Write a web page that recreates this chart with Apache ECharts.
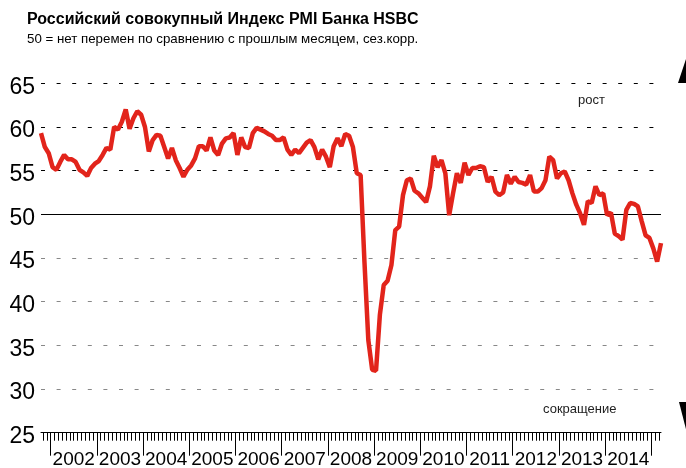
<!DOCTYPE html>
<html>
<head>
<meta charset="utf-8">
<title>PMI HSBC Russia</title>
<script src="https://cdn.jsdelivr.net/npm/echarts@6/dist/echarts.min.js"></script>
<style>
  html, body { margin: 0; padding: 0; background: #fff; }
  #pmiChart { width: 686px; height: 468px; }
</style>
</head>
<body>
<div id="pmiChart"></div>
<script>
// first month of the series (year, month)
var firstYear = 2001;
var firstMonthNo = 10;
// monthly index values, one array per year
var pmi2001 = [59.3, 57.7, 57.0];
var pmi2002 = [55.4, 55.1, 56.0, 56.8, 56.3, 56.3, 56.0, 55.1, 54.8, 54.4, 55.3, 55.8];
var pmi2003 = [56.1, 56.8, 57.6, 57.4, 60.0, 59.7, 60.6, 62.0, 59.8, 61.0, 61.8, 61.4];
var pmi2004 = [60.0, 57.2, 58.5, 59.1, 59.0, 57.7, 56.4, 57.6, 56.2, 55.3, 54.3, 55.1];
var pmi2005 = [55.6, 56.4, 57.8, 57.8, 57.3, 58.8, 57.3, 56.8, 58.1, 58.7, 58.8, 59.3];
var pmi2006 = [56.8, 58.8, 57.7, 57.6, 59.3, 59.9, 59.7, 59.5, 59.2, 59.0, 58.5, 58.5];
var pmi2007 = [58.8, 57.4, 56.8, 57.4, 57.0, 57.6, 58.2, 58.5, 57.7, 56.3, 57.4, 56.6];
var pmi2008 = [55.4, 57.8, 58.7, 57.8, 59.2, 59.0, 57.7, 54.7, 54.5, 44.5, 35.6, 32.2];
var pmi2009 = [32.1, 38.5, 41.9, 42.4, 44.2, 48.2, 48.6, 52.2, 53.9, 54.1, 52.7, 52.4];
var pmi2010 = [51.9, 51.4, 53.2, 56.7, 55.4, 56.2, 54.7, 49.9, 52.4, 54.7, 53.6, 55.9];
var pmi2011 = [54.5, 55.3, 55.3, 55.5, 55.4, 53.7, 54.3, 52.6, 52.2, 52.5, 54.5, 53.5];
var pmi2012 = [54.3, 53.7, 53.6, 53.4, 54.5, 52.6, 52.6, 53.0, 53.9, 56.6, 56.2, 54.1];
var pmi2013 = [54.7, 54.9, 53.9, 52.4, 51.1, 50.1, 48.8, 51.5, 51.3, 53.2, 52.2, 52.4];
var pmi2014 = [49.9, 50.2, 47.8, 47.5, 47.1, 50.5, 51.3, 51.2, 50.9, 49.2, 47.6, 47.3];
var pmi2015 = [46.1, 44.6, 46.7];
// year labels under the axis
var yearLabels = ['2002', '2003', '2004', '2005', '2006', '2007', '2008', '2009', '2010', '2011', '2012', '2013', '2014'];
// value axis
var yMin = 25, yMax = 65, yStep = 5;
var noChangeLevel = 50;

var pmi = [].concat(pmi2001, pmi2002, pmi2003, pmi2004, pmi2005, pmi2006, pmi2007,
  pmi2008, pmi2009, pmi2010, pmi2011, pmi2012, pmi2013, pmi2014, pmi2015);

// x = months counted from start of 2002, point sits in the middle of its month
var startOffset = (firstYear - 2002) * 12 + (firstMonthNo - 1);
var seriesData = pmi.map(function (v, i) {
  return [startOffset + i + 0.5, v];
});
var xMin = seriesData[0][0];
var xMax = seriesData[seriesData.length - 1][0];

// ticks: every month boundary, long ones at new year, labels mid year
var minorTicks = [];
for (var m = Math.ceil(xMin); m <= Math.floor(xMax); m++) minorTicks.push(m);
var majorTicks = [];
var labelPos = [];
yearLabels.forEach(function (y, j) {
  majorTicks.push(j * 12);
  labelPos.push(j * 12 + 6);
});
majorTicks.push(yearLabels.length * 12);

var fontFam = '"Liberation Sans", Arial, sans-serif';

var option = {
  animation: false,
  backgroundColor: '#fff',
  title: {
    text: 'Российский совокупный Индекс PMI Банка HSBC',
    subtext: '50 = нет перемен по сравнению с прошлым месяцем, сез.корр.',
    left: 27,
    top: 12,
    itemGap: 5,
    padding: 0,
    textStyle: { fontFamily: fontFam, fontSize: 16, fontWeight: 'bold', color: '#000' },
    subtextStyle: { fontFamily: fontFam, fontSize: 13.3, color: '#000' }
  },
  // keep the plot box fixed, labels may sit close to the edge
  grid: { left: 41, right: 25, top: 83.3, bottom: 35.3, outerBoundsMode: 'none' },
  xAxis: [
    {
      type: 'value',
      min: xMin,
      max: xMax,
      position: 'bottom',
      axisLine: { show: true, lineStyle: { color: '#000', width: 1 } },
      axisTick: { show: true, customValues: minorTicks, length: 8, lineStyle: { color: '#000', width: 1 } },
      axisLabel: { show: false },
      splitLine: { show: false }
    },
    {
      type: 'value',
      min: xMin,
      max: xMax,
      position: 'bottom',
      axisLine: { show: false },
      axisTick: { show: true, customValues: majorTicks, length: 23, lineStyle: { color: '#000', width: 1 } },
      axisLabel: {
        show: true,
        customValues: labelPos,
        margin: 18,
        fontFamily: fontFam,
        fontSize: 19,
        color: '#000',
        formatter: function (v) {
          return yearLabels[Math.round((v - 6) / 12)];
        }
      },
      splitLine: { show: false }
    }
  ],
  yAxis: {
    type: 'value',
    min: yMin,
    max: yMax,
    interval: yStep,
    axisLine: { show: false },
    axisTick: { show: false },
    axisLabel: {
      margin: 6,
      formatter: function (v) { return '{v|' + v + '}'; },
      rich: {
        v: { fontFamily: fontFam, fontSize: 23, color: '#000', padding: [8, 0, 0, 0] }
      }
    },
    splitLine: {
      show: true,
      lineStyle: {
        type: [4, 11.6],
        width: 1,
        // 25 .. 65, the 50 line is drawn solid below
        color: ['#000', '#888', '#888', '#888', '#888', 'rgba(0,0,0,0)', '#000', '#000', '#000']
      }
    }
  },
  graphic: [
    { type: 'text', left: 578, top: 94, style: { text: 'рост', font: '13px ' + fontFam, fill: '#222' } },
    { type: 'text', left: 543, top: 403, style: { text: 'сокращение', font: '13px ' + fontFam, fill: '#222' } },
    { type: 'polygon', shape: { points: [[678, 83], [688, 53], [698, 83]] }, style: { fill: '#000' } },
    { type: 'polygon', shape: { points: [[679, 402], [697, 402], [688, 437]] }, style: { fill: '#000' } }
  ],
  series: [
    {
      name: 'PMI',
      type: 'line',
      xAxisIndex: 0,
      data: seriesData,
      showSymbol: false,
      z: 3,
      lineStyle: { color: '#e2241b', width: 4.5 },
      markLine: {
        silent: true,
        symbol: 'none',
        z: 1,
        label: { show: false },
        lineStyle: { type: 'solid', color: '#000', width: 1 },
        data: [{ yAxis: noChangeLevel }]
      }
    }
  ]
};

var chartBox = document.getElementById('pmiChart');
var myChart = echarts.init(chartBox);
myChart.setOption(option);
window.onresize = function () {
  myChart.resize();
};
</script>
</body>
</html>
